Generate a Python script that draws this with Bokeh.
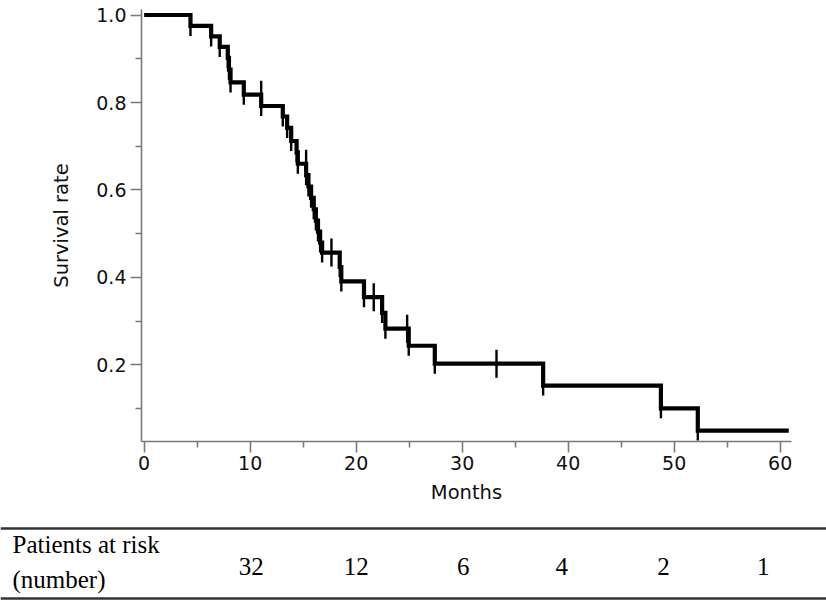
import numpy as np
from bokeh.plotting import figure
from bokeh.layouts import column
from bokeh.models import Range1d, FixedTicker, PrintfTickFormatter, Span
from bokeh.core.properties import value
from bokeh.embed import file_html
from bokeh.resources import INLINE

# ---------------- data ----------------
event_months = [4.37, 6.32, 7.13, 7.89, 8.0, 8.15, 9.40, 11.04, 13.08, 13.49, 13.87,
                14.38, 14.5, 15.28, 15.5, 15.75, 16.0, 16.2, 16.4, 16.6, 16.79,
                18.45, 18.6, 20.74, 22.45, 22.76, 24.96, 27.42, 37.64, 48.75, 52.23]
survival_after = [0.975, 0.951, 0.927, 0.902, 0.875, 0.846, 0.818, 0.792, 0.768, 0.742, 0.712,
                  0.686, 0.660, 0.634, 0.608, 0.582, 0.556, 0.530, 0.505, 0.480, 0.457,
                  0.424, 0.391, 0.355, 0.319, 0.283, 0.244, 0.203, 0.153, 0.101, 0.050]
censor_months = [11.04, 15.28, 17.67, 21.66, 24.81, 33.24]
last_follow_up = 60.81

x_major_ticks = [0, 10, 20, 30, 40, 50, 60]
x_minor_ticks = [5, 15, 25, 35, 45, 55]
y_major_ticks = [0.2, 0.4, 0.6, 0.8, 1.0]
y_minor_ticks = [0.1, 0.3, 0.5, 0.7, 0.9]

risk_row_labels = ["Patients at risk", "(number)"]
risk_months = [10.1, 20.0, 30.1, 39.4, 49.0, 58.4]
risk_counts = ["32", "12", "6", "4", "2", "1"]

# ---------------- layout constants ----------------
X_START, X_END = -0.25, 61.07
Y_START, Y_END = 0.0251, 1.0126
FRAME_W, FRAME_H = 650, 432
LEFT, RIGHT, TOP, BOTTOM = 141, 35, 9, 75
TOTAL_W = LEFT + FRAME_W + RIGHT
PPM = FRAME_W / (X_END - X_START)

AXIS_COLOR = "#7a7a7a"
TEXT_COLOR = "#111111"
SANS = "DejaVu Sans"
SERIF = "Liberation Serif"

# ---------------- survival plot ----------------
p = figure(frame_width=FRAME_W, frame_height=FRAME_H,
           min_border_left=LEFT, min_border_right=RIGHT,
           min_border_top=TOP, min_border_bottom=BOTTOM,
           x_range=Range1d(X_START, X_END), y_range=Range1d(Y_START, Y_END),
           output_backend="svg", toolbar_location=None)
p.outline_line_color = None
p.grid.visible = False
p.background_fill_color = "white"
p.border_fill_color = "white"

step_x = [0] + event_months + [last_follow_up]
step_y = [1.0] + survival_after + [survival_after[-1]]
p.step(step_x, step_y, mode="after", line_color="black", line_width=4.2,
       line_join="miter", line_cap="butt")

# drop marks (short ticks under each step)
p.scatter(event_months, survival_after, marker="dash", angle=np.pi / 2, size=20,
          line_color="black", line_width=2.4)

# censor marks
ev = np.array(event_months)
sv = np.array(survival_after)
censor_levels = []
for t_c in censor_months:
    prior = sv[ev < t_c]
    censor_levels.append(prior[-1] if len(prior) else 1.0)
p.scatter(censor_months, censor_levels, marker="dash", angle=np.pi / 2, size=28,
          line_color="black", line_width=2.4)

for ax in (p.xaxis[0], p.yaxis[0]):
    ax.axis_line_color = AXIS_COLOR
    ax.axis_line_width = 1.6
    ax.major_tick_line_color = AXIS_COLOR
    ax.minor_tick_line_color = AXIS_COLOR
    ax.major_tick_line_width = 1.6
    ax.minor_tick_line_width = 1.6
    ax.major_tick_in = 0
    ax.minor_tick_in = 0
    ax.major_tick_out = 11
    ax.minor_tick_out = 6
    ax.major_label_text_font = SANS
    ax.major_label_text_font_size = "19px"
    ax.major_label_text_color = TEXT_COLOR
    ax.axis_label_text_font = SANS
    ax.axis_label_text_font_size = "19.5px"
    ax.axis_label_text_font_style = "normal"
    ax.axis_label_text_color = TEXT_COLOR

p.xaxis.ticker = FixedTicker(ticks=x_major_ticks, minor_ticks=x_minor_ticks)
p.yaxis.ticker = FixedTicker(ticks=y_major_ticks, minor_ticks=y_minor_ticks)
p.yaxis.formatter = PrintfTickFormatter(format="%.1f")
p.xaxis.axis_label = "Months"
p.yaxis.axis_label = "Survival rate"
p.xaxis.major_label_standoff = 3
p.yaxis.major_label_standoff = 4
p.xaxis.axis_label_standoff = 8
p.yaxis.axis_label_standoff = 20

# ---------------- at-risk table ----------------
TABLE_H = 86
x2_start = X_START - LEFT / PPM
x2_end = x2_start + TOTAL_W / PPM
t = figure(frame_width=TOTAL_W, frame_height=TABLE_H,
           min_border_left=0, min_border_right=0, min_border_top=0, min_border_bottom=0,
           x_range=Range1d(x2_start, x2_end), y_range=Range1d(TABLE_H, 0),
           output_backend="svg", toolbar_location=None)
t.axis.visible = False
t.grid.visible = False
t.outline_line_color = None
t.background_fill_color = "white"
t.border_fill_color = "white"
for fig in (p, t):
    try:
        fig.frame_align = False
    except Exception:
        pass

t.add_layout(Span(location=12, dimension="width", line_color="#333333", line_width=2.5))
t.add_layout(Span(location=82, dimension="width", line_color="#333333", line_width=2.5))

label_x = x2_start + 12 / PPM
t.text([label_x, label_x], [28, 63], text=risk_row_labels,
       text_font=value(SERIF), text_font_size="25px", text_color="#000000",
       text_align="left", text_baseline="middle")
t.text(risk_months, [50] * len(risk_months), text=risk_counts,
       text_font=value(SERIF), text_font_size="25px", text_color="#000000",
       text_align="center", text_baseline="middle")

layout = column(p, t, spacing=0)
open("out.html", "w").write(file_html(layout, INLINE))
